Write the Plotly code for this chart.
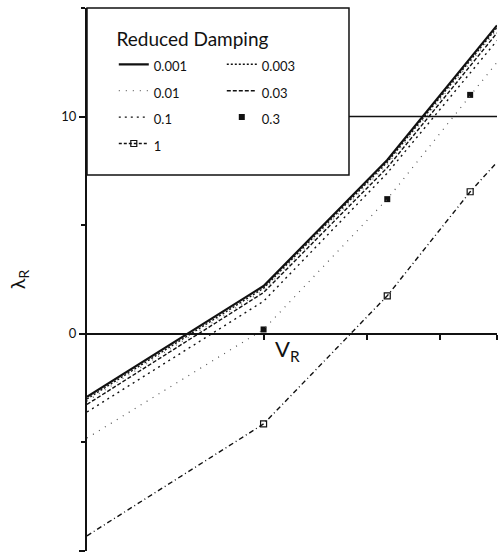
import math
import plotly.graph_objects as go

# Reduced velocity (log axis) and eigenvalue real part for each damping value
V_R = [1, 2, 3.25, 4.5, 5]
lam_0001 = [-2.9, 2.2, 8.0, 12.7, 14.2]
lam_0003 = [-3.0, 2.1, 7.9, 12.6, 14.1]
lam_001 = [-3.1, 2.0, 7.8, 12.5, 14.0]
lam_003 = [-3.25, 1.9, 7.65, 12.35, 13.85]
lam_01 = [-3.6, 1.5, 7.4, 12.0, 13.5]
lam_03 = [-4.8, 0.2, 6.2, 11.0, 12.5]
lam_1 = [-9.3, -4.15, 1.75, 6.54, 7.9]

y_tickvals = [-10, 0, 10]
y_ticktext = ["\u221210", "0", "10"]
y_minor_ticks = [-5, 5, 15]
x_tickvals = [2, 3, 4, 5]

Y_MIN, Y_MAX = -10, 15
FONT = "Lato"
BLACK = "#111"
NB = "\u00a0"

# legend frame geometry (paper fractions)
LEG_RIGHT = 0.639
LEG_BOTTOM = 0.6925

fig = go.Figure()

def small(t):
    return '<span style="font-size:13px">' + t + '</span>'

fig.add_trace(go.Scatter(x=V_R, y=lam_0001, mode="lines", name=small("0.001"),
                         line=dict(color=BLACK, width=2.2)))
fig.add_trace(go.Scatter(x=V_R, y=lam_0003, mode="lines", name=small("0.003"),
                         line=dict(color=BLACK, width=1.4, dash="2px,2px")))
fig.add_trace(go.Scatter(x=V_R, y=lam_001, mode="lines", name=small("0.01"),
                         line=dict(color="#666", width=1.2, dash="1px,6px")))
fig.add_trace(go.Scatter(x=V_R, y=lam_003, mode="lines", name=small("0.03"),
                         line=dict(color=BLACK, width=1.4, dash="4px,2px")))
fig.add_trace(go.Scatter(x=V_R, y=lam_01, mode="lines", name=small("0.1"),
                         line=dict(color=BLACK, width=1.4, dash="2px,4px")))
fig.add_trace(go.Scatter(x=V_R[1:4], y=lam_03[1:4], mode="markers", name=small("0.3"),
                         marker=dict(symbol="square", size=6, color=BLACK)))
fig.add_trace(go.Scatter(x=V_R, y=lam_03, mode="lines", showlegend=False,
                         line=dict(color="#555", width=1.2, dash="1px,6px")))
fig.add_trace(go.Scatter(x=V_R, y=lam_1, mode="lines", showlegend=False,
                         line=dict(color=BLACK, width=1.4, dash="5px,3px,1px,3px")))
fig.add_trace(go.Scatter(x=V_R[1:4], y=lam_1[1:4], mode="markers", showlegend=False,
                         marker=dict(symbol="square-open", size=6, color=BLACK,
                                     line=dict(width=1.2, color=BLACK))))
fig.add_trace(go.Scatter(x=[None], y=[None], mode="lines+markers", name=small("1"),
                         line=dict(color=BLACK, width=1.4, dash="3px,2px"),
                         marker=dict(symbol="square-open", size=6, color=BLACK,
                                     line=dict(width=1.2, color=BLACK))))

# horizontal reference line at lambda = 10
fig.add_shape(type="line", xref="paper", x0=0, x1=1, yref="y", y0=10, y1=10,
              line=dict(color=BLACK, width=1.5), layer="below")
# legend frame
fig.add_shape(type="rect", xref="paper", yref="paper", x0=0, x1=LEG_RIGHT,
              y0=LEG_BOTTOM, y1=1, fillcolor="white",
              line=dict(color=BLACK, width=1.5), layer="above")

fig.add_annotation(x=math.log10(2.2), y=-0.75, xref="x", yref="y",
                   text="V<sub>R</sub>", showarrow=False,
                   font=dict(family=FONT, size=22, color=BLACK))

zero_pos = (0 - Y_MIN) / (Y_MAX - Y_MIN)

legend_title = NB * 4 + '<span style="font-size:19px">Reduced Damping</span>'

fig.update_layout(
    width=501, height=558,
    margin=dict(l=87, r=4, t=8, b=7, autoexpand=False),
    paper_bgcolor="white", plot_bgcolor="white",
    font=dict(family=FONT, color=BLACK),
    showlegend=True,
    legend=dict(
        orientation="h", x=-0.0005, xanchor="left", y=0.9945, yanchor="top",
        bgcolor="rgba(0,0,0,0)", borderwidth=0,
        font=dict(family=FONT, size=18, color=BLACK),
        entrywidth=36, indentation=27,
        title=dict(text=legend_title, side="top",
                   font=dict(family=FONT, size=27, color=BLACK)),
    ),
    xaxis=dict(type="log", range=[0, math.log10(5)], tickvals=x_tickvals,
               showticklabels=False, ticks="outside", ticklen=5, tickwidth=1.5,
               tickcolor=BLACK, showline=True, linecolor=BLACK, linewidth=2,
               showgrid=False, zeroline=False, anchor="free", position=zero_pos),
    yaxis=dict(range=[Y_MIN, Y_MAX], tickvals=y_tickvals, ticktext=y_ticktext,
               ticks="outside", ticklen=6, tickwidth=1.5, tickcolor=BLACK,
               minor=dict(tickmode="array", tickvals=y_minor_ticks, ticks="outside",
                          ticklen=4, tickwidth=1.5, tickcolor=BLACK),
               showline=True, linecolor=BLACK, linewidth=2, showgrid=False,
               zeroline=False, tickfont=dict(family=FONT, size=13, color=BLACK),
               title=dict(text="\u03bb<sub>R</sub>", standoff=30,
                          font=dict(family=FONT, size=20, color=BLACK))),
)

fig.write_html("out.html")
